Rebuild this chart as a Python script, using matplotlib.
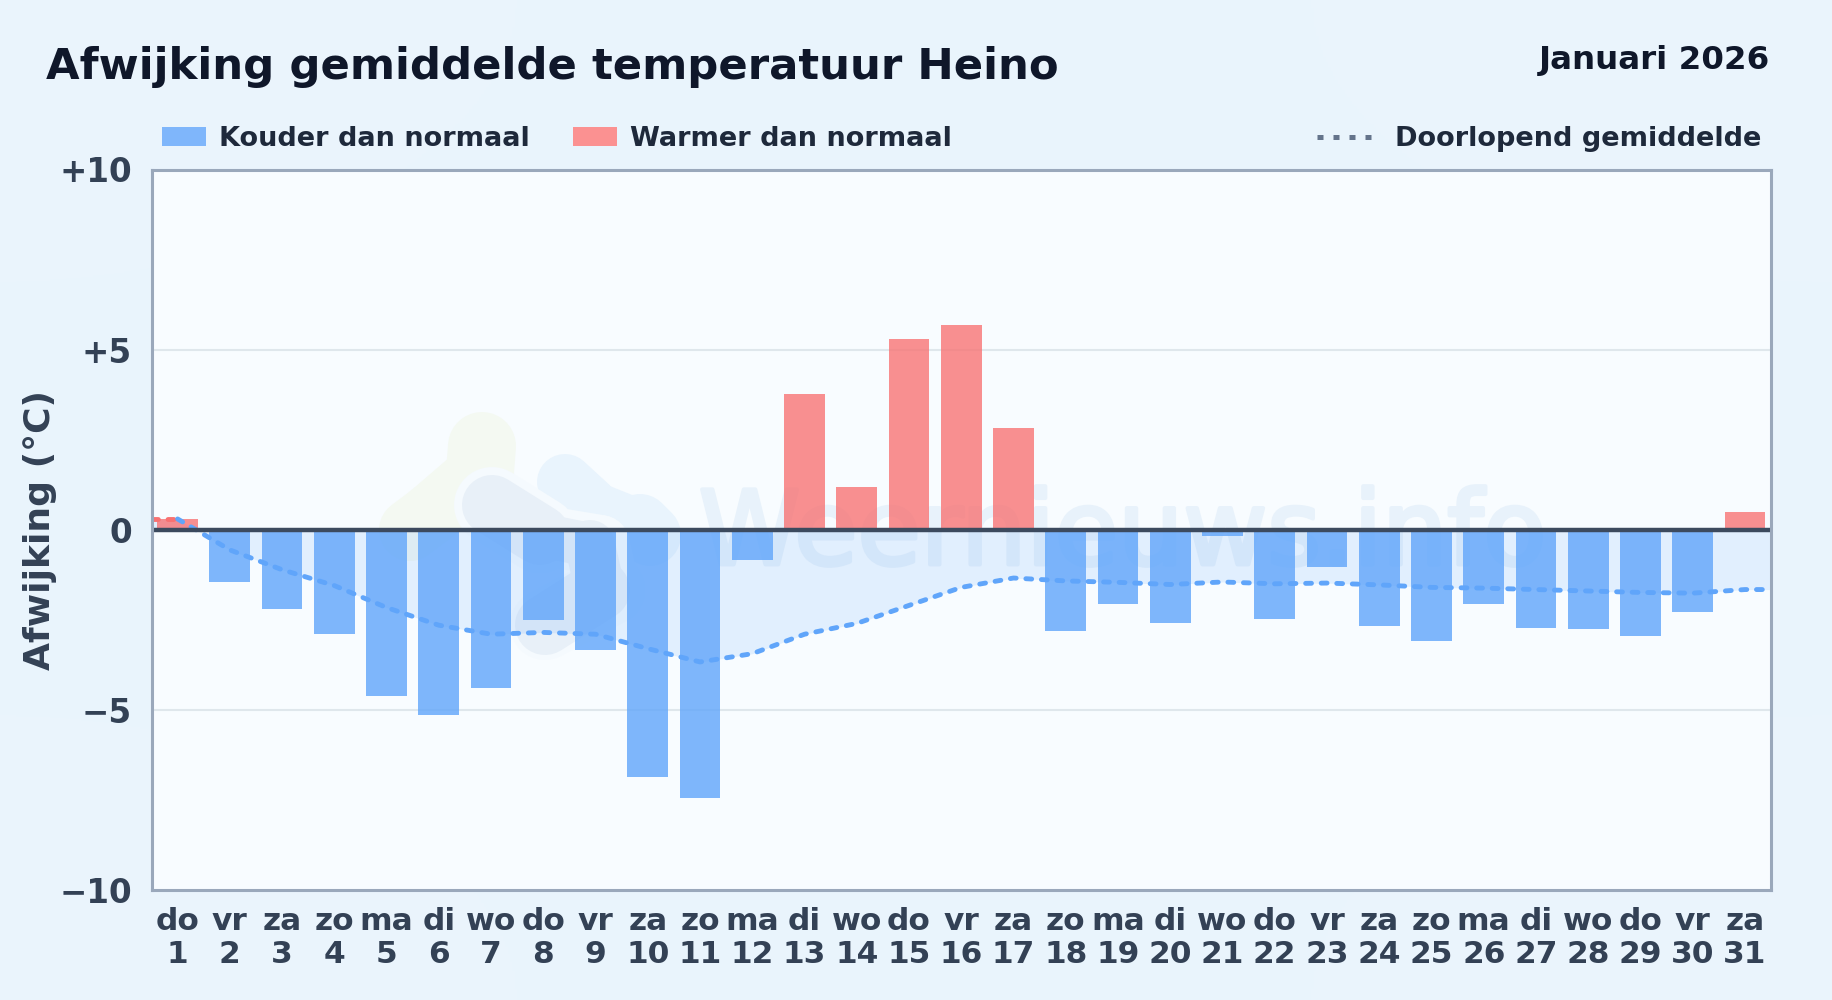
import matplotlib
matplotlib.use('Agg')
import matplotlib.pyplot as plt
import matplotlib.patheffects as pe
import numpy as np
from matplotlib.patches import Rectangle
from matplotlib.lines import Line2D

# Afwijking per dag
days = list(range(1, 32))
weekdays = ['do', 'vr', 'za', 'zo', 'ma', 'di', 'wo', 'do', 'vr', 'za', 'zo', 'ma', 'di', 'wo', 'do', 'vr',
            'za', 'zo', 'ma', 'di', 'wo', 'do', 'vr', 'za', 'zo', 'ma', 'di', 'wo', 'do', 'vr', 'za']
anomaly = [0.3, -1.45, -2.2, -2.88, -4.62, -5.15, -4.4, -2.5, -3.33, -6.85, -7.45, -0.85, 3.77, 1.18, 5.3, 5.68,
           2.83, -2.8, -2.05, -2.6, -0.17, -2.48, -1.03, -2.68, -3.1, -2.05, -2.73, -2.76, -2.95, -2.27, 0.5]
running_mean = [0.3, -0.56, -1.11, -1.55, -2.16, -2.65, -2.9, -2.85, -2.9, -3.3, -3.67, -3.44, -2.9, -2.6,
                -2.1, -1.6, -1.34, -1.42, -1.46, -1.52, -1.45, -1.5, -1.48, -1.53, -1.6, -1.62, -1.66,
                -1.7, -1.74, -1.76, -1.66]
y_ticks = [-10, -5, 0, 5, 10]
y_labels = ['\u221210', '\u22125', '0', '+5', '+10']

BLUE_BAR = '#7fb6fb'
RED_BAR = '#fb9191'
BLUE_LINE = '#60a5fa'
RED_LINE = '#f87171'
TEXT = '#334155'
DARK = '#0f172a'
LEGEND = '#1e293b'

fig = plt.figure(figsize=(18.32, 10), dpi=100, facecolor='#e9f4fd')

# Achtergrondverloop van de figuur
bg = fig.add_axes([0, 0, 1, 1], zorder=0)
bg.imshow([[0.0, 0.6, 0.0], [0.6, 1.0, 0.6], [0.0, 0.6, 0.0]], extent=(0, 1, 0, 1), aspect='auto',
          cmap=matplotlib.colors.LinearSegmentedColormap.from_list('bg', ['#ebf5fd', '#e7f3fc']),
          interpolation='bicubic')
bg.axis('off')

left, right, top, bottom = 151.5, 1770.5, 169.5, 890
ax = fig.add_axes([left / 1832, 1 - bottom / 1000, (right - left) / 1832, (bottom - top) / 1000], zorder=1)
ax.set_facecolor('#f8fcff')
ax.set_xlim(0.5, 31.49)
ax.set_ylim(-10, 10)


def logo_blob(points, widths, color):
    # Dikke ronde streken in pixels van de figuur, voor het vage logo
    for (x0, y0), (x1, y1), w in zip(points[:-1], points[1:], widths):
        ax.add_line(Line2D([x0 / 1832, x1 / 1832], [1 - y0 / 1000, 1 - y1 / 1000], transform=fig.transFigure,
                           color=color, linewidth=w * 0.72, solid_capstyle='round', zorder=1))


# Watermerk: logo en tekst
logo_blob([(482, 446), (480, 472), (430, 515), (410, 530)], [68, 62, 62], '#f4f9f2')
logo_blob([(565, 482), (590, 505), (640, 525), (650, 535)], [56, 50, 62], '#e9f4fd')
logo_blob([(492, 505), (540, 535), (600, 545), (610, 590), (545, 625)], [76, 60, 60, 70], '#f5fafe')
logo_blob([(492, 505), (540, 535), (590, 545), (600, 590), (545, 625)], [60, 44, 50, 60], '#e8f0f8')
ax.text(0.338, 0.452, 'Weernieuws.info', transform=ax.transAxes, fontsize=74, color='#e8f2fb',
        ha='left', va='baseline', zorder=1,
        path_effects=[pe.withStroke(linewidth=3, foreground='#e8f2fb')])

# Gebied tussen nullijn en doorlopend gemiddelde
mean_x = [0.5] + days + [31.5]
mean_y = [running_mean[0]] + running_mean + [running_mean[-1]]
ax.fill_between(mean_x, mean_y, 0, where=[v <= 0.3 for v in mean_y], color=BLUE_LINE, alpha=0.15,
                linewidth=0, zorder=2)

for y in y_ticks[1:-1]:
    if y != 0:
        ax.axhline(y, color='#dfe7ec', linewidth=1.5, zorder=2)

colors = [BLUE_LINE if v < 0 else RED_LINE for v in anomaly]
alphas = [0.8 if v < 0 else 0.78 for v in anomaly]
ax.bar(days, anomaly, width=0.78, color=[matplotlib.colors.to_rgba(c, a) for c, a in zip(colors, alphas)], zorder=3)

ax.plot(mean_x[:2], mean_y[:2], color=RED_LINE, linewidth=3.5, linestyle=(0, (1.2, 2)),
        dash_capstyle='round', zorder=4)
ax.plot(mean_x[1:], mean_y[1:], color=BLUE_LINE, linewidth=3.5, linestyle=(0, (1.2, 2)),
        dash_capstyle='round', zorder=4)
ax.axhline(0, color='#3c4a5e', linewidth=3.2, zorder=5)

ax.set_xticks(days)
ax.set_xticklabels([f'{w}\n{d}' for w, d in zip(weekdays, days)], fontsize=22.5, fontweight='bold',
                   color=TEXT, linespacing=1.18)
ax.set_yticks(y_ticks)
ax.set_yticklabels(y_labels, fontsize=23.5, fontweight='bold', color=TEXT)
ax.tick_params(axis='y', length=0, pad=14)
ax.tick_params(axis='x', length=0, pad=12)

for spine in ax.spines.values():
    spine.set_color('#9aa8bb')
    spine.set_linewidth(2.2)
    spine.set_zorder(10)

fig.text(40 / 1832, 1 - 530 / 1000, 'Afwijking (°C)', rotation=90, fontsize=26, fontweight='bold',
         color=TEXT, ha='center', va='center', zorder=2)

fig.text(46 / 1832, 1 - 67 / 1000, 'Afwijking gemiddelde temperatuur Heino', fontsize=31.2, fontweight='bold',
         color=DARK, ha='left', va='center', zorder=2)
fig.text(1770 / 1832, 1 - 61 / 1000, 'Januari 2026', fontsize=23.4, fontweight='bold',
         color=DARK, ha='right', va='center', zorder=2)

# Legenda met de hand geplaatst
fig.add_artist(Rectangle((162 / 1832, 1 - 146 / 1000), 44 / 1832, 19 / 1000, facecolor=BLUE_BAR, edgecolor='none',
                         transform=fig.transFigure, zorder=2))
fig.text(219 / 1832, 1 - 139 / 1000, 'Kouder dan normaal', fontsize=19.5, fontweight='bold', color=LEGEND,
         ha='left', va='center', zorder=2)
fig.add_artist(Rectangle((573 / 1832, 1 - 146 / 1000), 44 / 1832, 19 / 1000, facecolor=RED_BAR, edgecolor='none',
                         transform=fig.transFigure, zorder=2))
fig.text(630 / 1832, 1 - 139 / 1000, 'Warmer dan normaal', fontsize=19.5, fontweight='bold', color=LEGEND,
         ha='left', va='center', zorder=2)
fig.add_artist(Line2D([1317 / 1832, 1373 / 1832], [1 - 137 / 1000, 1 - 137 / 1000], color='#64748b', linewidth=3.6,
                      linestyle=(0, (1.2, 2)), transform=fig.transFigure, zorder=2))
fig.text(1395 / 1832, 1 - 139 / 1000, 'Doorlopend gemiddelde', fontsize=19.5, fontweight='bold', color=LEGEND,
         ha='left', va='center', zorder=2)

fig.savefig('out.png', dpi=100, facecolor=fig.get_facecolor())
